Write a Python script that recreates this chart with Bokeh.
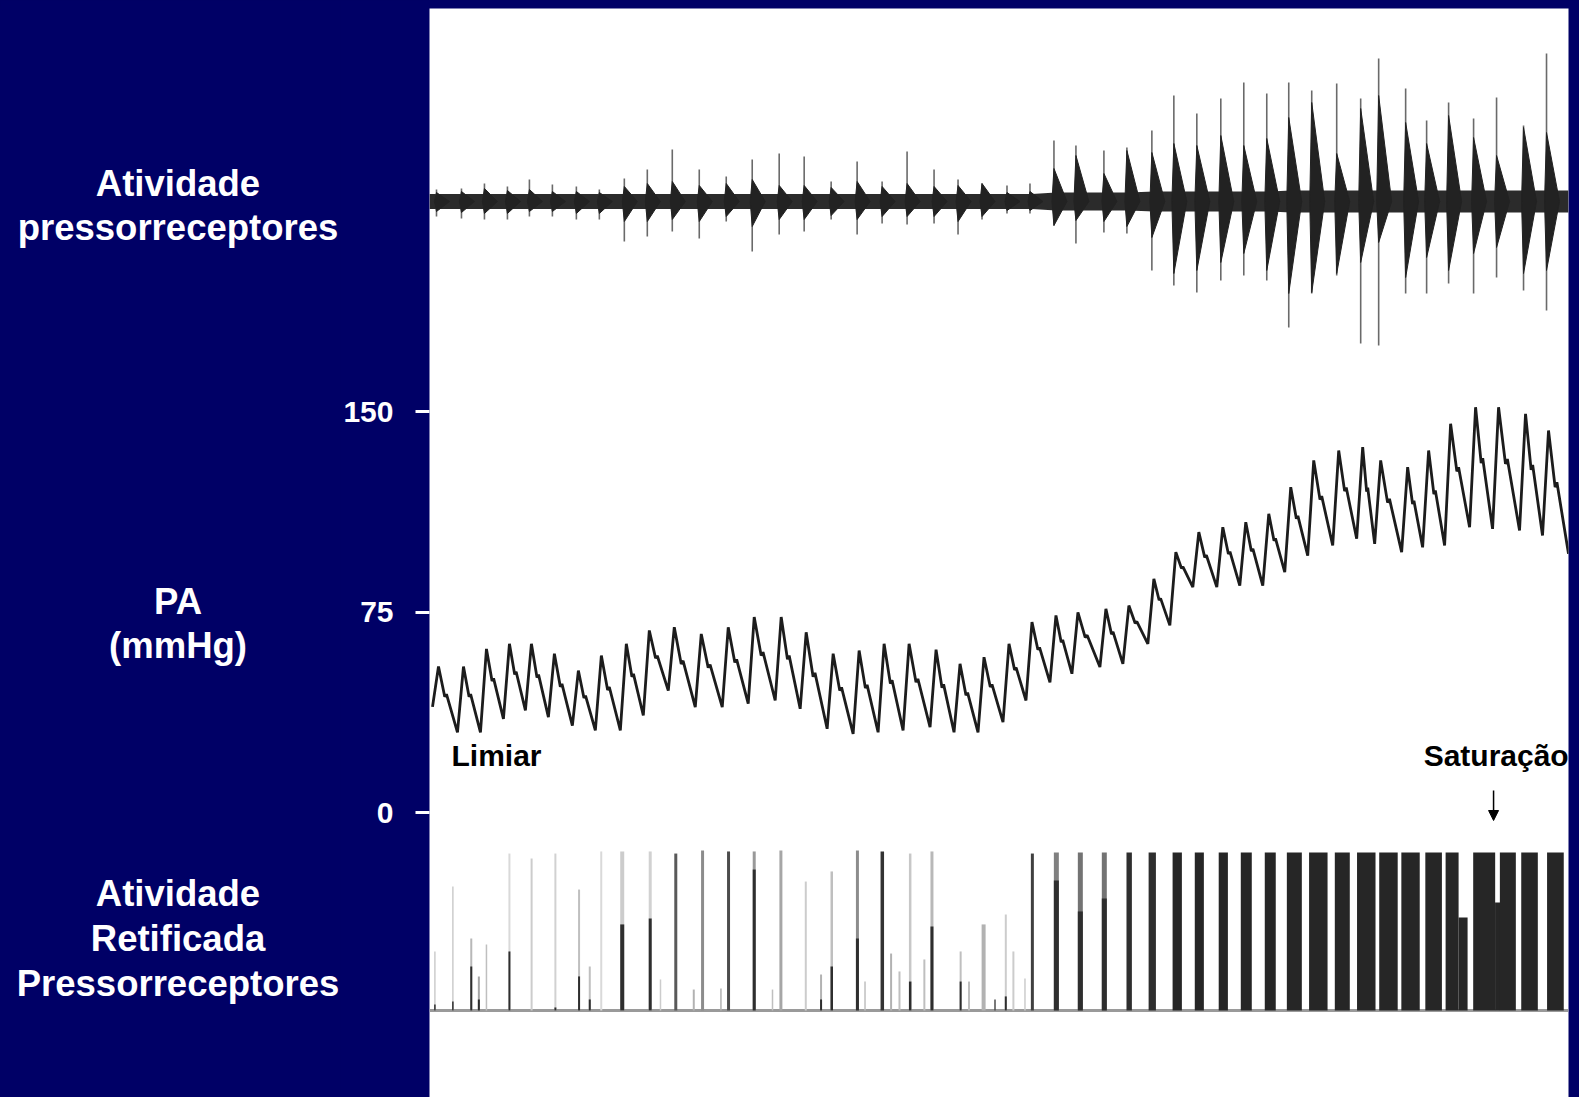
from bokeh.plotting import figure
from bokeh.layouts import row
from bokeh.models import Range1d, LinearAxis, FixedTicker, Arrow, NormalHead
from bokeh.core.properties import value
from bokeh.embed import file_html
from bokeh.resources import INLINE

# ---------------- data (read from the recording) ----------------
# time axis: seconds from the left edge of the record
T_END = 11.40

# arterial pressure (PA, mmHg): one entry per heart beat
peak_t = [0.09, 0.34, 0.57, 0.80, 1.02, 1.25, 1.49, 1.72, 1.97, 2.20,
          2.45, 2.72, 2.99, 3.25, 3.52, 3.77, 4.04, 4.30, 4.55, 4.80,
          5.07, 5.31, 5.55, 5.80, 6.03, 6.27, 6.49, 6.77, 7.00, 7.25,
          7.47, 7.70, 7.94, 8.17, 8.40, 8.62, 8.85, 9.10, 9.34, 9.52,
          9.79, 10.00, 10.22, 10.47, 10.70, 10.97, 11.20]
peak_v = [54.6, 54.6, 61.2, 63.1, 63.1, 59.4, 53.1, 58.7, 63.1, 68.1,
          69.3, 66.8, 69.3, 73.1, 73.1, 67.4, 59.4, 60.6, 63.1, 63.1,
          60.9, 55.6, 58.1, 63.1, 71.2, 73.7, 74.9, 76.2, 77.4, 87.4,
          97.4, 104.9, 106.7, 108.6, 111.7, 121.7, 131.7, 135.4, 136.7, 131.7,
          129.2, 135.4, 145.4, 151.6, 151.6, 149.1, 142.9]
trough_v = [30.0, 30.0, 35.0, 38.2, 35.7, 32.5, 30.7, 30.7, 36.3, 45.6,
            39.4, 39.4, 40.7, 41.9, 38.8, 31.3, 29.4, 30.0, 30.7, 31.9,
            30.0, 30.0, 33.8, 41.9, 48.7, 51.9, 54.4, 55.6, 63.1, 70.0,
            84.3, 84.3, 84.9, 84.9, 89.9, 96.1, 99.9, 102.4, 100.5, 97.4,
            99.2, 99.9, 106.7, 106.1, 105.5, 103.6, 96.8]
PA_START = 39.5
PA_TICKS = [0, 75, 150]

# raw baroreceptor activity (arbitrary units), one entry per beat
raw_up = [1.2, 1.3, 1.8, 1.5, 2.2, 1.7, 1.5, 1.2, 2.3, 3.2,
          5.2, 3.2, 2.5, 4.2, 4.8, 4.5, 2.0, 4.0, 2.0, 5.0,
          3.2, 2.2, 1.8, 1.6, 1.8, 6.1, 5.6, 5.1, 5.4, 7.1,
          10.6, 8.8, 10.3, 11.9, 10.8, 11.9, 11.1, 11.8, 10.3, 14.3,
          11.3, 8.1, 9.9, 8.3, 10.4, 7.6, 14.8]
raw_down = [1.5, 1.7, 1.8, 1.8, 1.5, 1.5, 1.8, 1.8, 4.0, 3.5,
            3.0, 3.7, 2.0, 5.0, 3.3, 3.0, 1.8, 3.3, 2.2, 2.3,
            2.2, 3.3, 1.8, 1.2, 1.2, 2.4, 4.2, 3.1, 3.2, 6.9,
            8.4, 9.1, 7.9, 7.4, 7.9, 12.6, 9.2, 7.4, 14.2, 14.4,
            9.2, 9.2, 8.2, 9.2, 7.6, 8.9, 10.9]
burst_up = [0.9, 1.0, 1.3, 1.1, 1.2, 1.0, 1.0, 0.9, 1.5, 1.8,
            2.0, 1.6, 1.8, 2.2, 1.6, 1.6, 1.4, 2.0, 1.5, 1.8,
            1.5, 1.6, 1.8, 0.9, 1.0, 3.3, 4.6, 2.8, 5.1, 4.9,
            5.8, 5.6, 6.6, 5.6, 6.3, 8.4, 9.9, 4.8, 9.3, 10.6,
            7.9, 5.8, 8.6, 6.4, 4.6, 7.4, 6.9]
burst_down = [1.0, 1.1, 1.2, 1.2, 1.0, 1.0, 1.2, 1.2, 2.0, 2.0,
              1.8, 2.0, 1.5, 2.5, 1.8, 1.8, 1.4, 1.8, 1.5, 1.5,
              1.5, 2.0, 1.5, 0.9, 0.9, 2.4, 1.9, 2.0, 2.5, 3.6,
              7.2, 6.9, 6.1, 5.2, 6.9, 9.2, 9.1, 7.2, 6.1, 4.1,
              7.6, 5.6, 6.9, 5.2, 4.6, 7.2, 6.9]
noise_hw = [0.75, 0.75, 0.75, 0.75, 0.75, 0.75, 0.75, 0.75, 0.75, 0.75,
            0.75, 0.75, 0.75, 0.75, 0.75, 0.75, 0.75, 0.75, 0.75, 0.75,
            0.75, 0.75, 0.75, 0.75, 0.75, 0.9, 0.9, 0.9, 0.9, 1.0,
            1.0, 1.0, 1.0, 1.0, 1.0, 1.1, 1.1, 1.1, 1.1, 1.1,
            1.1, 1.1, 1.1, 1.1, 1.1, 1.1, 1.1]

# rectified activity (% of saturation): one entry per deflection
rect_t = [0.054, 0.234, 0.418, 0.494, 0.570, 0.800, 1.022, 1.260, 1.497, 1.604,
          1.719, 1.929, 2.209, 2.312, 2.465, 2.645, 2.733, 2.917, 2.993, 3.250,
          3.433, 3.517, 3.766, 3.919, 4.026, 4.283, 4.359, 4.532, 4.620, 4.704,
          4.811, 4.953, 5.029, 5.316, 5.400, 5.546, 5.660, 5.768, 5.844, 5.960,
          6.034, 6.274, 6.514, 6.754, 7.003, 7.234, 7.484, 7.705, 7.945, 8.175,
          8.415, 8.656, 8.896, 9.136, 9.376, 9.598, 9.819, 10.050, 10.235, 10.345,
          10.556, 10.690, 10.793, 11.010, 11.269]
rect_dur = [0.015, 0.015, 0.02, 0.02, 0.015, 0.02, 0.02, 0.02, 0.02, 0.02,
            0.02, 0.04, 0.03, 0.015, 0.03, 0.02, 0.03, 0.015, 0.03, 0.03,
            0.015, 0.03, 0.02, 0.02, 0.025, 0.03, 0.015, 0.035, 0.02, 0.02,
            0.025, 0.02, 0.03, 0.02, 0.02, 0.04, 0.015, 0.02, 0.02, 0.015,
            0.03, 0.05, 0.05, 0.05, 0.054, 0.073, 0.093, 0.091, 0.092, 0.11,
            0.11, 0.15, 0.185, 0.15, 0.185, 0.185, 0.184, 0.166, 0.13, 0.09,
            0.22, 0.05, 0.16, 0.166, 0.167]
rect_h = [36.9, 77.5, 45.0, 21.3, 41.3, 98.1, 95.0, 98.1, 75.6, 27.5,
          99.4, 99.4, 99.4, 19.4, 98.1, 13.1, 100.0, 13.8, 99.4, 99.4,
          13.1, 100.0, 80.6, 22.5, 86.9, 100.0, 18.1, 99.4, 35.6, 24.4,
          98.1, 31.9, 99.4, 36.9, 18.1, 53.8, 6.9, 60.0, 36.9, 20.0,
          98.1, 98.8, 98.8, 98.8, 98.8, 98.8, 98.8, 98.8, 98.8, 98.8,
          98.8, 98.8, 98.8, 98.8, 98.8, 98.8, 98.8, 98.8, 98.8, 58.1,
          98.8, 67.5, 98.8, 98.8, 98.8]
rect_core = [3.8, 5.6, 27.5, 6.9, 0, 36.9, 0, 1.9, 21.3, 6.9,
             0, 53.8, 57.5, 0, 0, 0, 0, 0, 0, 88.1,
             0, 0, 0, 6.9, 27.5, 45.0, 0, 0, 0, 0,
             18.1, 0, 52.5, 18.1, 0, 0, 0, 8.8, 0, 0,
             0, 81.3, 61.9, 70.0, 0, 0, 0, 0, 0, 0,
             0, 0, 0, 0, 0, 0, 0, 0, 0, 0,
             0, 0, 0, 0, 0]
rect_shade = [0.80, 0.80, 0.72, 0.65, 0.75, 0.85, 0.80, 0.82, 0.75, 0.75,
              0.85, 0.80, 0.82, 0.80, 0.35, 0.70, 0.55, 0.70, 0.30, 0.60,
              0.75, 0.65, 0.80, 0.70, 0.75, 0.55, 0.75, 0.20, 0.70, 0.75,
              0.78, 0.75, 0.72, 0.75, 0.75, 0.70, 0.30, 0.80, 0.80, 0.80,
              0.25, 0.50, 0.45, 0.45, 0.18, 0.18, 0.15, 0.15, 0.15, 0.15,
              0.15, 0.15, 0.15, 0.15, 0.15, 0.15, 0.15, 0.15, 0.15, 0.15,
              0.15, 0.15, 0.15, 0.15, 0.15]

# slide texts on the navy margin
side_text = ["Atividade", "pressorreceptores", "PA", "(mmHg)",
             "Atividade", "Retificada", "Pressorreceptores"]

# ---------------- layout (screen pixels of the slide) ----------------
NAVY = "#000066"
W, H = 1579, 1097
LEFT_W = 340
SCREEN_TOP, SCREEN_BOTTOM = 8, 1097
PANEL_LEFT, PANEL_RIGHT = 428, 1568
PX_PER_S = (PANEL_RIGHT - PANEL_LEFT) / T_END
PA_ZERO_Y, PA_150_Y = 812, 411
PX_PER_MMHG = (PA_ZERO_Y - PA_150_Y) / 150.0
RAW_BASE_Y, RAW_PX = 201, 10.0
RECT_BASE_Y, RECT_PX = 1010, 1.6
SIDE_X = 177.5
SIDE_BASELINES = [183, 227, 601, 645, 893, 938, 983]


def pa_at(y):
    return (PA_ZERO_Y - y) / PX_PER_MMHG


def t_at(x):
    return (x - PANEL_LEFT) / PX_PER_S


# ---- left navy column with the slide labels ----
side = figure(width=LEFT_W, height=H, output_backend="svg", toolbar_location=None,
              title=None, x_range=Range1d(0, LEFT_W),
              y_range=Range1d(SCREEN_BOTTOM, SCREEN_TOP),
              x_axis_location=None, y_axis_location=None,
              min_border_left=0, min_border_right=0,
              min_border_top=SCREEN_TOP, min_border_bottom=H - SCREEN_BOTTOM,
              background_fill_color=NAVY, border_fill_color=NAVY,
              outline_line_color=NAVY, outline_line_width=4)
side.xgrid.visible = False
side.ygrid.visible = False
side.text(x=[SIDE_X] * len(side_text), y=SIDE_BASELINES, text=side_text,
          text_font=value("Liberation Sans"), text_font_size="36.5px",
          text_font_style="bold", text_color="white",
          text_align="center", text_baseline="alphabetic")

# ---- record panel ----
p = figure(width=W - LEFT_W, height=H, output_backend="svg", toolbar_location=None,
           title=None,
           x_range=Range1d(0, T_END),
           y_range=Range1d(pa_at(SCREEN_BOTTOM), pa_at(SCREEN_TOP)),
           x_axis_location=None, y_axis_location=None,
           min_border_left=PANEL_LEFT - LEFT_W, min_border_right=W - PANEL_RIGHT,
           min_border_top=SCREEN_TOP, min_border_bottom=H - SCREEN_BOTTOM,
           background_fill_color="white", border_fill_color=NAVY,
           outline_line_color=None)
p.xgrid.visible = False
p.ygrid.visible = False
p.extra_y_ranges = {
    "raw": Range1d((RAW_BASE_Y - SCREEN_BOTTOM) / RAW_PX, (RAW_BASE_Y - SCREEN_TOP) / RAW_PX),
    "rect": Range1d((RECT_BASE_Y - SCREEN_BOTTOM) / RECT_PX, (RECT_BASE_Y - SCREEN_TOP) / RECT_PX),
}

# PA axis
ax = LinearAxis(ticker=FixedTicker(ticks=PA_TICKS))
ax.axis_line_color = None
ax.major_tick_line_color = "white"
ax.major_tick_line_width = 3
ax.major_tick_out = 14
ax.major_tick_in = 0
ax.minor_tick_line_color = None
ax.major_label_text_color = "white"
ax.major_label_text_font = "Liberation Sans"
ax.major_label_text_font_style = "bold"
ax.major_label_text_font_size = "30px"
ax.major_label_standoff = 22
p.add_layout(ax, "left")

# raw activity
n = len(peak_t)
band_x = [0.0] + peak_t + [T_END]
band_h = [noise_hw[0]] + noise_hw + [noise_hw[-1]]
p.varea(x=band_x, y1=[-h for h in band_h], y2=band_h, fill_color="#2b2b2b",
        y_range_name="raw")
spk_x = [t - 0.02 for t in peak_t]
p.segment(x0=spk_x, y0=[-d for d in raw_down], x1=spk_x, y1=raw_up,
          line_color="#6a6a6a", line_width=1.6, y_range_name="raw")
bx = [[t - 0.02, t, t + 0.13, t] for t in spk_x]
by = [[0, u, 0, -d] for u, d in zip(burst_up, burst_down)]
p.patches(xs=bx, ys=by, fill_color="#222222", line_color="#222222", line_width=1,
          y_range_name="raw")

# PA trace
RISE = 0.06
xs = [peak_t[0] - RISE]
ys = [PA_START]
for i in range(n):
    end_t = peak_t[i + 1] - RISE if i < n - 1 else T_END
    d = end_t - peak_t[i]
    a = peak_v[i] - trough_v[i]
    xs += [peak_t[i], peak_t[i] + 0.33 * d, peak_t[i] + 0.42 * d, end_t]
    ys += [peak_v[i], peak_v[i] - 0.46 * a, peak_v[i] - 0.42 * a, trough_v[i]]
p.line(xs, ys, line_color="#1c1c1c", line_width=2.8)

# rectified activity
p.line([0, T_END], [0, 0], line_color="#9a9a9a", line_width=3, y_range_name="rect")


def gray(s):
    g = int(round(255 * s))
    return "#%02x%02x%02x" % (g, g, g)


p.vbar(x=rect_t, width=rect_dur, top=rect_h, bottom=0,
       fill_color=[gray(s) for s in rect_shade], line_color=None, y_range_name="rect")
core_idx = [i for i, c in enumerate(rect_core) if c > 0]
p.vbar(x=[rect_t[i] for i in core_idx], width=[rect_dur[i] for i in core_idx],
       top=[rect_core[i] for i in core_idx], bottom=0,
       fill_color="#2e2e2e", line_color=None, y_range_name="rect")

# annotations inside the record
p.text(x=[t_at(450), t_at(1423)], y=[pa_at(755), pa_at(755)],
       text=["Limiar", "Saturação"], text_font=value("Liberation Sans"),
       text_font_size="30px", text_font_style="bold", text_color="black",
       text_align="left", text_baseline="alphabetic")
p.add_layout(Arrow(end=NormalHead(size=10, fill_color="black", line_color="black"),
                   x_start=t_at(1493), y_start=pa_at(790),
                   x_end=t_at(1493), y_end=pa_at(820),
                   line_color="black", line_width=1.5))

layout = row(side, p, spacing=0, styles={"background-color": NAVY})
open("out.html", "w").write(file_html(layout, INLINE))
